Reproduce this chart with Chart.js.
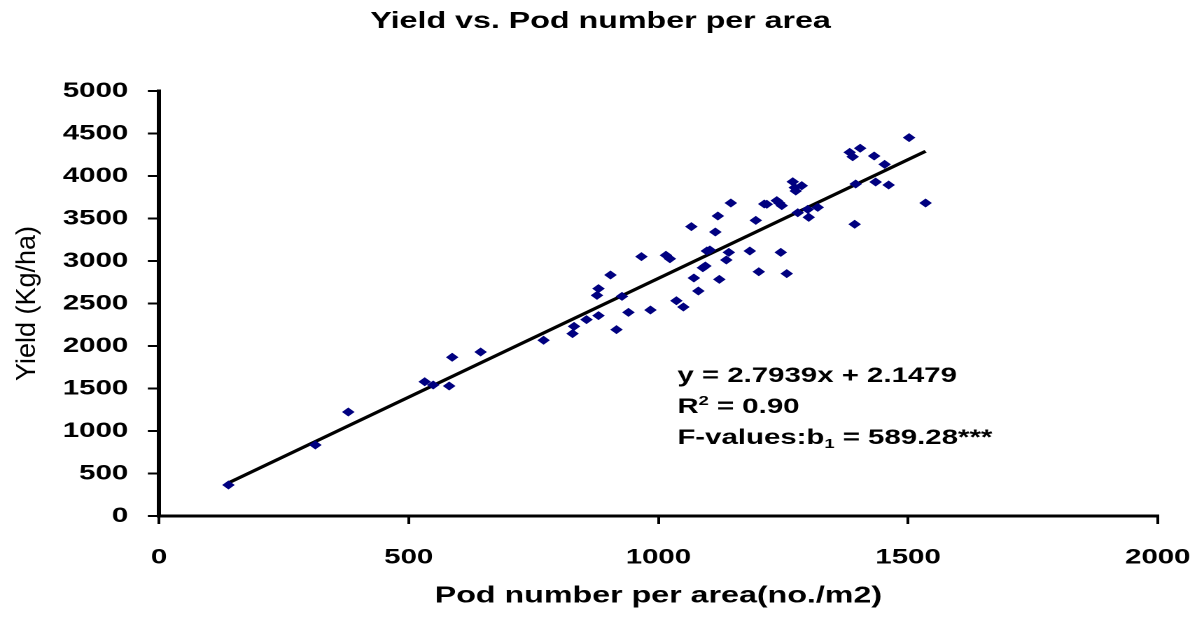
<!DOCTYPE html>
<html>
<head>
<meta charset="utf-8">
<title>Yield vs. Pod number per area</title>
<script src="https://cdn.jsdelivr.net/npm/chart.js@4.4.1/dist/chart.umd.min.js"></script>
<style>
    html, body { margin: 0; padding: 0; background: #fff; overflow: hidden; }
    /* the original picture is stretched sideways, so the canvas is too */
    #wrap { width: 858px; height: 617px; transform: scaleX(1.4); transform-origin: 0 0; }
</style>
</head>
<body>
<div id="wrap"><canvas id="chart" width="858" height="617"></canvas></div>
<script>
const podNumber = [
    139, 313, 379, 532, 549, 581, 587, 644, 770, 828,
    831, 856, 880, 877, 880, 904, 916, 927, 940, 966,
    984, 1015, 1023, 1036, 1050, 1066, 1071, 1080, 1089, 1094,
    1097, 1103, 1114, 1119, 1122, 1136, 1141, 1145, 1183, 1195,
    1201, 1212, 1217, 1237, 1242, 1247, 1245, 1257, 1269, 1273,
    1275, 1287, 1279, 1299, 1301, 1319, 1383, 1389, 1404, 1393,
    1395, 1432, 1435, 1453, 1461, 1502, 1535
];
const yieldValues = [
    365, 835, 1224, 1580, 1541, 1529, 1867, 1929, 2067, 2145,
    2231, 2310, 2357, 2596, 2675, 2835, 2192, 2584, 2396, 3051,
    2423, 3067, 3027, 2533, 2459, 3404, 2800, 2647, 2921, 2941,
    3118, 3129, 3341, 3529, 2784, 3012, 3102, 3682, 3118, 3478,
    2874, 3671, 3667, 3710, 3682, 3651, 3102, 2851, 3933, 3863,
    3824, 3886, 3568, 3608, 3514, 3631, 4278, 4227, 4326, 3432,
    3906, 4235, 3929, 4137, 3894, 4451, 3682
];
// ends of the fitted line y = 2.7939x + 2.1479
const trendX = [139, 1535];
const trendY = [390, 4291];

const xTicks = [0, 500, 1000, 1500, 2000];
const yTicks = [0, 500, 1000, 1500, 2000, 2500, 3000, 3500, 4000, 4500, 5000];

const chartTitle = 'Yield vs. Pod number per area';
const xTitle = 'Pod number per area(no./m2)';
const yTitle = 'Yield (Kg/ha)';
const noteLines = ['y = 2.7939x + 2.1479', 'R|2| = 0.90', 'F-values:b|1| = 589.28***'];
const noteAt = { x: 1038, y: 1576 };

const FONT = "'Liberation Sans', Arial, Helvetica, sans-serif";
Chart.defaults.font.family = FONT;
Chart.defaults.color = '#000';

const points = podNumber.map((x, i) => ({ x: x, y: yieldValues[i] }));
const trend = trendX.map((x, i) => ({ x: x, y: trendY[i] }));

// y title is drawn by hand so it keeps normal proportions, plus the equation box
const extras = {
    id: 'extras',
    afterDraw(chart) {
        const ctx = chart.ctx;
        const area = chart.chartArea;

        ctx.save();
        ctx.translate(27.5 / 1.4, (area.top + area.bottom) / 2);
        ctx.scale(1 / 1.4, 1);
        ctx.rotate(-Math.PI / 2);
        ctx.font = '27px ' + FONT;
        ctx.fillStyle = '#000';
        ctx.textAlign = 'center';
        ctx.textBaseline = 'middle';
        ctx.fillText(yTitle, 0, 0);
        ctx.restore();

        const left = chart.scales.x.getPixelForValue(noteAt.x);
        let base = chart.scales.y.getPixelForValue(noteAt.y);
        ctx.save();
        ctx.fillStyle = '#000';
        ctx.textBaseline = 'alphabetic';
        ctx.textAlign = 'left';
        noteLines.forEach((line, i) => {
            // parts between bars are super/subscripts
            const parts = line.split('|');
            let x = left;
            parts.forEach((part, j) => {
                if (j % 2 === 0) {
                    ctx.font = 'bold 21px ' + FONT;
                    ctx.fillText(part, x, base);
                } else {
                    ctx.font = 'bold 13px ' + FONT;
                    const dy = i === 1 ? -8 : 4;
                    ctx.fillText(part, x, base + dy);
                }
                x += ctx.measureText(part).width;
            });
            base += 31;
        });
        ctx.restore();
    }
};

new Chart(document.getElementById('chart'), {
    type: 'scatter',
    data: {
        datasets: [{
            label: 'Yield',
            data: points,
            pointStyle: 'rectRot',
            pointRadius: 3.8,
            pointHoverRadius: 3.8,
            backgroundColor: '#000080',
            borderColor: '#000080',
            borderWidth: 1
        }, {
            type: 'line',
            label: 'Trend',
            data: trend,
            borderColor: '#000',
            borderWidth: 3,
            pointRadius: 0,
            fill: false
        }]
    },
    options: {
        responsive: false,
        animation: false,
        devicePixelRatio: 2,
        layout: { padding: 0 },
        plugins: {
            legend: { display: false },
            tooltip: { enabled: false },
            title: {
                display: true,
                text: chartTitle,
                color: '#000',
                font: { size: 23, weight: 'bold' },
                padding: { top: 8, bottom: 55.4 }
            }
        },
        scales: {
            x: {
                type: 'linear',
                min: 0,
                max: 2000,
                afterBuildTicks: axis => { axis.ticks = xTicks.map(v => ({ value: v })); },
                afterFit: axis => {
                    axis.height = 101;
                    axis.paddingRight = 31;
                },
                ticks: {
                    color: '#000',
                    font: { size: 21, weight: 'bold' },
                    padding: 21,
                    callback: v => String(v)
                },
                grid: { display: true, drawOnChartArea: false, drawTicks: true, tickLength: 8, color: '#000', lineWidth: 2 },
                border: { display: true, color: '#000', width: 3 },
                title: {
                    display: true,
                    text: xTitle,
                    color: '#000',
                    font: { size: 23, weight: 'bold' },
                    padding: { top: 0, bottom: 7 }
                }
            },
            y: {
                type: 'linear',
                min: 0,
                max: 5000,
                afterBuildTicks: axis => { axis.ticks = yTicks.map(v => ({ value: v })); },
                afterFit: axis => { axis.width = 113.6; },
                ticks: {
                    color: '#000',
                    font: { size: 21, weight: 'bold' },
                    padding: 14,
                    callback: v => String(v)
                },
                grid: { display: true, drawOnChartArea: false, drawTicks: true, tickLength: 8, color: '#000', lineWidth: 2 },
                border: { display: true, color: '#000', width: 3 }
            }
        }
    },
    plugins: [extras]
});
</script>
</body>
</html>
